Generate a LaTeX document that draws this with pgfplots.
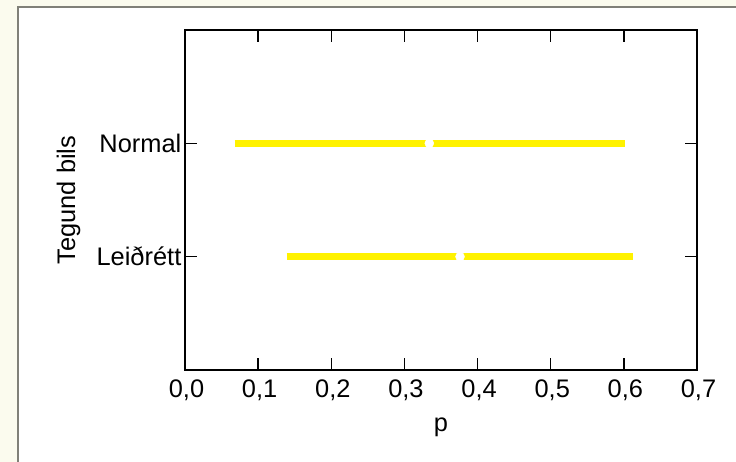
\documentclass[border=0pt]{standalone}
\usepackage{fontspec}
\setmainfont{Liberation Sans}
\usepackage{pgfplots}
\pgfplotsset{compat=1.18}
\definecolor{cream}{RGB}{251,251,238}
\definecolor{bary}{RGB}{255,242,0}
\definecolor{panelgray}{RGB}{128,128,120}
\begin{document}
\fontsize{25.5}{30}\selectfont
\begin{tikzpicture}[x=1bp,y=1bp]
\useasboundingbox (0,0) rectangle (736,462);
\fill[cream] (0,0) rectangle (736,462);
\fill[white] (18,0) rectangle (736,455);
\draw[panelgray, line width=1.5bp] (18,0) -- (18,455) -- (736,455);
\begin{axis}[
  at={(185bp,92bp)}, anchor=south west,
  scale only axis, width=512bp, height=340bp,
  xmin=0, xmax=0.7, ymin=-1, ymax=2,
  xtick={0,0.1,...,0.7},
  ytick={0,1}, yticklabels={Leiðrétt, Normal},
  tick pos=both, tick align=inside,
  major tick length=12bp,
  axis line style={line width=1.5bp},
  every tick/.style={black, line width=1.5bp},
  /pgf/number format/assume math mode=true,
  /pgf/number format/.cd, use comma, fixed, fixed zerofill, precision=1,
  /pgfplots/.cd,
  xticklabel style={font=\fontsize{25.5}{30}\selectfont, yshift=-1bp, xshift=1.5bp},
  yticklabel style={font=\fontsize{25.5}{30}\selectfont, xshift=5bp},
  xlabel={p}, ylabel={Tegund bils},
  label style={font=\fontsize{25.5}{30}\selectfont},
  xlabel style={yshift=0bp},
  ylabel style={yshift=-1bp},
  clip=false,
]
\addplot[bary, line width=7bp, line cap=butt] coordinates {(0.068,1) (0.602,1)};
\addplot[bary, line width=7bp, line cap=butt] coordinates {(0.139,0) (0.613,0)};
\addplot[only marks, mark=*, mark size=4.5bp, white, mark options={draw=white, fill=white}] coordinates {(0.334,1) (0.376,0)};
\end{axis}
\end{tikzpicture}
\end{document}
